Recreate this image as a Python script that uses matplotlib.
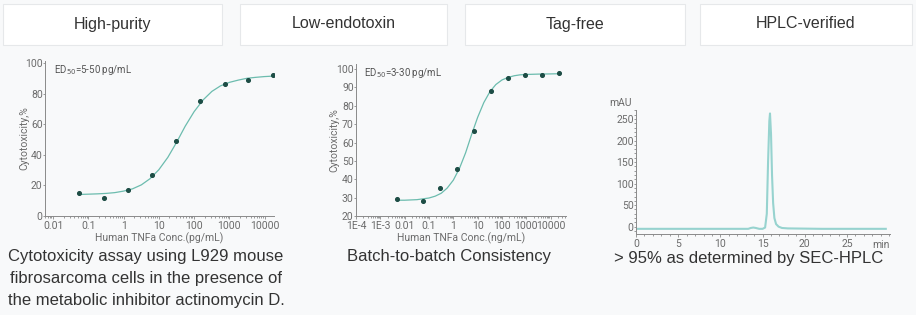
import matplotlib
matplotlib.use("Agg")
import matplotlib.pyplot as plt
from matplotlib.patches import Rectangle
from matplotlib.ticker import LogLocator, NullFormatter, MultipleLocator

# header boxes
headers = ["High-purity", "Low-endotoxin", "Tag-free", "HPLC-verified"]

# panel 1: cytotoxicity, pg/mL
p1_conc = [0.055, 0.27, 1.3, 6.4, 31, 150, 750, 3400, 17000]
p1_resp = [15.1, 11.8, 17.3, 26.7, 49.2, 75.3, 86.5, 88.9, 92.2]
p1_fit_conc = [0.056, 0.1, 0.18, 0.32, 0.56, 1, 1.8, 3.2, 5.6, 10, 18, 32, 56, 100,
               180, 320, 560, 1000, 1800, 3200, 5600, 10000, 17000]
p1_fit_resp = [14.1, 14.3, 14.5, 14.8, 15.3, 16.3, 17.8, 20.4, 24.4, 30.3, 38.4, 48.3,
               58.8, 68.3, 76.0, 81.6, 85.2, 87.5, 89.0, 90.2, 90.8, 91.3, 91.6]

# panel 2: cytotoxicity, ng/mL
p2_conc = [0.0049, 0.057, 0.29, 1.43, 7.2, 36, 180, 900, 4500, 22000]
p2_resp = [29.1, 28.0, 35.5, 45.5, 66.2, 88.2, 95.3, 96.7, 96.7, 98.0]
p2_fit_conc = [0.0049, 0.01, 0.032, 0.1, 0.18, 0.32, 0.56, 1, 1.8, 3.2, 5.6, 10,
               18, 32, 56, 100, 180, 320, 560, 1000, 3200, 10000, 22000]
p2_fit_resp = [28.6, 28.6, 28.9, 29.8, 30.8, 32.4, 35.2, 39.5, 46.0, 54.4, 64.2, 73.7,
               81.8, 87.7, 91.6, 94.1, 95.5, 96.4, 96.9, 97.1, 97.3, 97.4, 97.5]

# panel 3: SEC-HPLC trace
hplc_t = [0, 5, 10, 13.3, 13.6, 13.9, 14.2, 14.6, 15.0, 15.3, 15.5, 15.65, 15.8, 15.88,
          16.0, 16.12, 16.25, 16.4, 16.6, 16.9, 17.3, 18.0, 22, 29.6]
hplc_mau = [-5, -5, -5, -5, -3, -2, -3, -5, -5, -2, 30, 150, 245, 263,
            215, 120, 55, 20, 6, 0, -3, -4, -5, -5]

caption1 = ["Cytotoxicity assay using L929 mouse",
            "fibrosarcoma cells in the presence of",
            "the metabolic inhibitor actinomycin D."]
caption2 = "Batch-to-batch Consistency"
caption3 = "> 95% as determined by SEC-HPLC"

W, H = 916, 315
bg = "#f8f9fa"
fig = plt.figure(figsize=(W / 100, H / 100), dpi=100, facecolor=bg)

# header boxes
box_x = [(3, 222), (240, 447), (465, 685), (700, 912)]
for (x0, x1), name in zip(box_x, headers):
    fig.patches.append(Rectangle((x0 / W, 1 - 45 / H), (x1 - x0) / W, 41 / H,
                                 transform=fig.transFigure, facecolor="white",
                                 edgecolor="#e6e8ea", linewidth=0.8))
    fig.text((x0 + x1) / 2 / W, 1 - 24 / H, name, ha="center", va="center",
             fontsize=11.5, color="#333333", family="Liberation Sans")

axc = "#8a8a8a"
tc = "#6b6b6b"
pt_col = "#1d4d45"
fit_col = "#6cbcae"
fs = 7.5


def ax_at(left, right, top, bottom):
    return fig.add_axes([left / W, 1 - bottom / H, (right - left) / W, (bottom - top) / H])


def style(ax):
    ax.set_facecolor("none")
    for s in ["top", "right"]:
        ax.spines[s].set_visible(False)
    for s in ["left", "bottom"]:
        ax.spines[s].set_color(axc)
        ax.spines[s].set_linewidth(0.7)
    ax.tick_params(which="both", colors=axc, labelcolor=tc, labelsize=fs, width=0.6,
                   length=2, pad=1.5)
    ax.tick_params(axis="y", pad=0.2, length=1.5)
    ax.tick_params(which="minor", length=1.2)
    for lab in ax.get_xticklabels() + ax.get_yticklabels():
        lab.set_family("Roboto")


# panel 1
ax1 = ax_at(45, 274, 61, 216)
ax1.plot(p1_fit_conc, p1_fit_resp, color=fit_col, lw=0.9)
ax1.scatter(p1_conc, p1_resp, s=7, color=pt_col, zorder=3)
ax1.set_xscale("log")
ax1.set_xlim(0.0059, 18500)
ax1.set_ylim(0, 101.5)
ax1.set_yticks([0, 20, 40, 60, 80, 100])
ax1.set_xticks([0.01, 0.1, 1, 10, 100, 1000, 10000])
ax1.set_xticklabels(["0.01", "0.1", "1", "10", "100", "1000", "10000"])
ax1.xaxis.set_minor_locator(LogLocator(base=10, subs=range(2, 10), numticks=20))
ax1.xaxis.set_minor_formatter(NullFormatter())
style(ax1)
ax1.set_ylabel("Cytotoxicity,%", fontsize=fs, color=tc, family="Roboto", labelpad=-3)
ax1.set_xlabel("Human TNFa Conc.(pg/mL)", fontsize=fs, color=tc, family="Roboto", labelpad=1)
ax1.text(0.04, 0.99, "ED$_{50}$=5-50 pg/mL", transform=ax1.transAxes, fontsize=7,
         color="#555555", va="top", family="Roboto")

# panel 2
ax2 = ax_at(356, 566, 64, 216)
ax2.plot(p2_fit_conc, p2_fit_resp, color=fit_col, lw=0.9)
ax2.scatter(p2_conc, p2_resp, s=7, color=pt_col, zorder=3)
ax2.set_xscale("log")
ax2.set_xlim(0.0001, 43000)
ax2.set_ylim(20, 102.8)
ax2.set_yticks([20, 30, 40, 50, 60, 70, 80, 90, 100])
ax2.set_xticks([1e-4, 1e-3, 0.01, 0.1, 1, 10, 100, 1000, 10000])
ax2.set_xticklabels(["1E-4", "1E-3", "0.01", "0.1", "1", "10", "100", "1000", "10000"])
ax2.xaxis.set_minor_locator(LogLocator(base=10, subs=range(2, 10), numticks=20))
ax2.xaxis.set_minor_formatter(NullFormatter())
style(ax2)
ax2.set_ylabel("Cytotoxicity,%", fontsize=fs, color=tc, family="Roboto", labelpad=-2.5)
ax2.set_xlabel("Human TNFa Conc.(ng/mL)", fontsize=fs, color=tc, family="Roboto", labelpad=1)
ax2.text(0.04, 0.99, "ED$_{50}$=3-30 pg/mL", transform=ax2.transAxes, fontsize=7,
         color="#555555", va="top", family="Roboto")

# panel 3
ax3 = ax_at(636, 890, 110, 234)
ax3.plot(hplc_t, hplc_mau, color="#97d3cf", lw=1.5)
ax3.set_xlim(0, 30.1)
ax3.set_ylim(-17, 271)
ax3.set_xticks([0, 5, 10, 15, 20, 25])
ax3.set_yticks([0, 50, 100, 150, 200, 250])
ax3.xaxis.set_minor_locator(MultipleLocator(1))
ax3.yaxis.set_minor_locator(MultipleLocator(10))
style(ax3)
ax3.text(-0.016, 1.02, "mAU", transform=ax3.transAxes, ha="right", va="bottom",
         fontsize=fs, color=tc, family="Roboto")
ax3.text(1.0, -0.045, "min", transform=ax3.transAxes, ha="right", va="top",
         fontsize=fs, color=tc, family="Roboto")

# captions
for i, line in enumerate(caption1):
    fig.text(146 / W, 1 - (256 + 22.5 * i) / H, line, ha="center", va="center",
             fontsize=12, color="#333333", family="Liberation Sans")
fig.text(347 / W, 1 - 256 / H, caption2, ha="left", va="center", fontsize=12,
         color="#333333", family="Liberation Sans")
fig.text(614 / W, 1 - 258 / H, caption3, ha="left", va="center", fontsize=12,
         color="#333333", family="Liberation Sans")

fig.savefig("out.png", dpi=100, facecolor=bg)
